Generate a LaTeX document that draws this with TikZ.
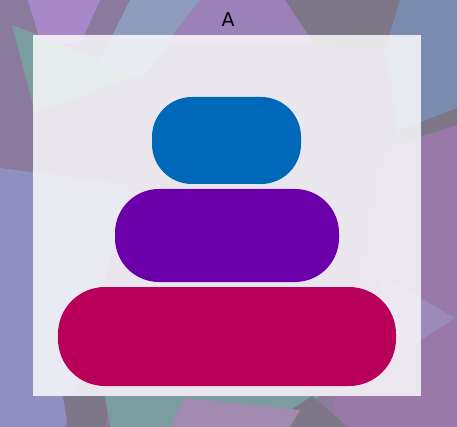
\documentclass[tikz,border=0pt]{standalone}
\usepackage{fontspec}
\setsansfont{DejaVu Sans}
\definecolor{bgbase}{HTML}{8A7A9E}
\definecolor{lavblue}{HTML}{8F90C0}
\definecolor{tealc}{HTML}{7A9EA0}
\definecolor{litpurp}{HTML}{A888C8}
\definecolor{bluegray}{HTML}{8D9BBD}
\definecolor{midpurp}{HTML}{9C80B8}
\definecolor{grayc}{HTML}{7D7788}
\definecolor{slate}{HTML}{7A8DB0}
\definecolor{rpurp}{HTML}{9A78A8}
\definecolor{ltri}{HTML}{9C8AB8}
\definecolor{pinkp}{HTML}{A28AB0}
\definecolor{c1}{HTML}{0068B8}
\definecolor{c2}{HTML}{6B00AA}
\definecolor{c3}{HTML}{B8005A}
\tikzset{
  disc/.style={rectangle, inner sep=0pt, draw=none},
}
\begin{document}
\begin{tikzpicture}[x=1pt,y=-1pt]
\useasboundingbox (0,0) rectangle (457,427);
% background
\fill[bgbase] (0,0) rectangle (457,427);
\fill[lavblue] (0,168) -- (130,185) -- (65,427) -- (0,427) -- cycle;
\fill[tealc] (12,25) -- (140,75) -- (35,112) -- cycle;
\fill[litpurp] (28,0) -- (100,0) -- (80,45) -- (40,40) -- cycle;
\fill[bluegray] (130,0) -- (205,0) -- (140,80) -- (100,60) -- cycle;
\fill[midpurp] (200,0) -- (290,0) -- (320,45) -- (165,45) -- cycle;
\fill[grayc] (285,0) -- (400,0) -- (390,50) -- (315,45) -- cycle;
\fill[slate] (400,0) -- (457,0) -- (457,125) -- (400,145) -- (385,50) -- cycle;
\fill[grayc] (400,130) -- (457,108) -- (457,135) -- (400,155) -- cycle;
\fill[rpurp] (380,150) -- (457,125) -- (457,427) -- (330,427) -- cycle;
\fill[ltri] (380,275) -- (455,318) -- (390,360) -- cycle;
\fill[grayc] (63,396) -- (110,396) -- (105,427) -- (68,427) -- cycle;
\fill[tealc] (105,396) -- (320,396) -- (285,427) -- (110,427) -- cycle;
\fill[grayc] (312,396) -- (348,427) -- (265,427) -- cycle;
\fill[pinkp] (185,398) -- (300,410) -- (290,427) -- (170,427) -- cycle;
% panel
\fill[white, opacity=0.82] (33,35) rectangle (421,396);
% title
\node[font=\sffamily\fontsize{19}{20}\selectfont, inner sep=0pt] (title) at (228,20) {A};
% discs
\node[disc, fill=c1, minimum width=149pt, minimum height=87pt, rounded corners=40pt] (d1) at (226.5,140.5) {};
\node[disc, fill=c2, minimum width=224pt, minimum height=93pt, rounded corners=44pt] (d2) at (227,235.5) {};
\node[disc, fill=c3, minimum width=338pt, minimum height=99pt, rounded corners=47pt] (d3) at (227,336.5) {};
\end{tikzpicture}
\end{document}
